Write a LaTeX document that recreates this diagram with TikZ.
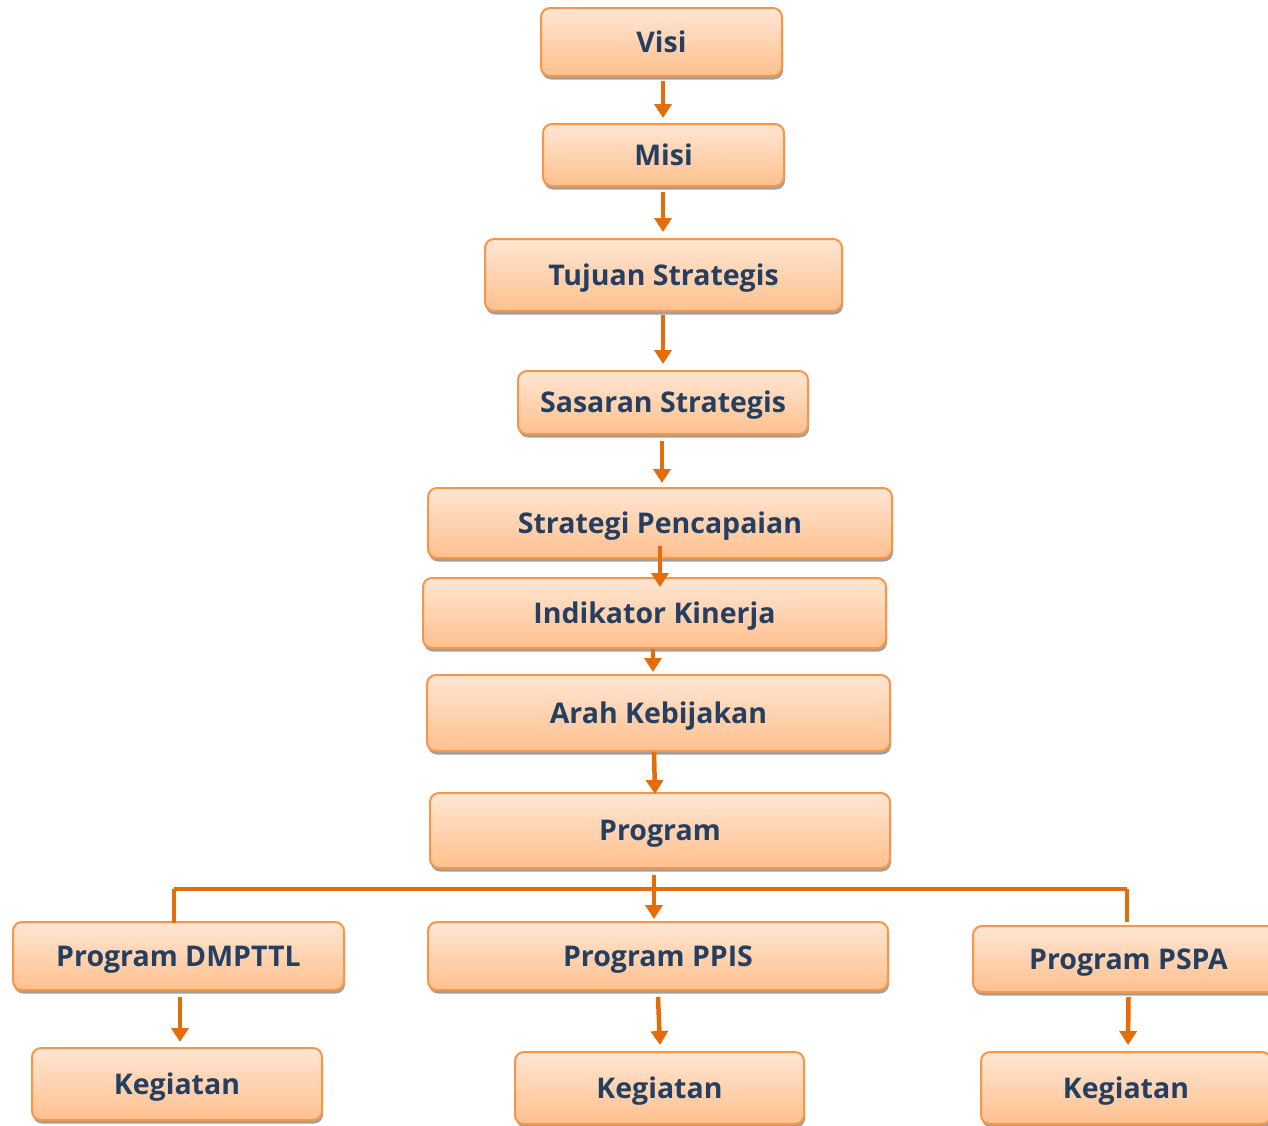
\documentclass[tikz,border=0pt]{standalone}
\usepackage{fontspec}
\setmainfont{Open Sans}
\usetikzlibrary{arrows.meta,shadows,calc}
\definecolor{arrc}{HTML}{E46C0A}
\definecolor{bordc}{HTML}{F79646}
\definecolor{topc}{HTML}{FFE6D3}
\definecolor{botc}{HTML}{FFC08E}
\definecolor{txtc}{HTML}{243F60}
\definecolor{shadc}{HTML}{A0A0A0}
\begin{document}
\begin{tikzpicture}[x=1pt,y=-1pt,
  box/.style={draw=bordc,line width=2pt,rounded corners=9pt,top color=topc,bottom color=botc,
    inner sep=0pt,text=txtc,font=\fontsize{28.5}{32}\selectfont\bfseries,
    text height=20.3pt,text depth=0pt,
    drop shadow={shadow xshift=1pt,shadow yshift=-3.5pt,fill=shadc,opacity=1}},
  arr/.style={draw=arrc,line width=4.5pt,-{Triangle[width=17pt,length=14pt]}},
  ln/.style={draw=arrc,line width=4.5pt}]
\useasboundingbox (0,0) rectangle (1268,1125);
\clip (0,0) rectangle (1268,1125);
\node[box,minimum width=241pt,minimum height=68pt] (visi) at (661.5,42) {Visi};
\node[box,minimum width=241pt,minimum height=62pt] (misi) at (663.5,155) {Misi};
\node[box,minimum width=357pt,minimum height=72pt] (tuj) at (663.5,275) {Tujuan Strategis};
\node[box,minimum width=290pt,minimum height=63pt] (sas) at (663,402.5) {Sasaran Strategis};
\node[box,minimum width=464pt,minimum height=70pt] (strat) at (660,523) {Strategi Pencapaian};
\node[box,minimum width=463pt,minimum height=70pt] (ind) at (654.5,613) {Indikator Kinerja};
\node[box,minimum width=463pt,minimum height=76pt] (arah) at (658.5,713) {Arah Kebijakan};
\node[box,minimum width=460pt,minimum height=75pt] (prog) at (660,830.5) {Program};
\node[box,minimum width=331pt,minimum height=68pt] (dmp) at (178.5,956) {Program DMPTTL};
\node[box,minimum width=460pt,minimum height=68pt] (ppis) at (658,956) {Program PPIS};
\node[box,minimum width=311pt,minimum height=66pt] (pspa) at (1128.5,959) {Program PSPA};
\node[box,minimum width=290pt,minimum height=72pt] (kegl) at (177,1084) {Kegiatan};
\node[box,minimum width=289pt,minimum height=72pt] (kegm) at (659.5,1088) {Kegiatan};
\node[box,minimum width=290pt,minimum height=72pt] (kegr) at (1126,1088) {Kegiatan};
% arrows
\draw[arr] ($(visi.south)+(1.5,4)$) -- ($(misi.north)+(-0.5,-5)$);
\draw[arr] ($(misi.south)+(-0.5,5)$) -- ($(tuj.north)+(-0.5,-6)$);
\draw[arr] ($(tuj.south)+(-0.5,3)$) -- ($(sas.north)+(0,-6)$);
\draw[arr] ($(sas.south)+(-1,6)$) -- ($(strat.north)+(2,-4)$);
\draw[arr] ($(strat.south)+(0,-13)$) -- ($(ind.north)+(5.5,10)$);
\draw[arr] ($(ind.south)+(-1.5,0)$) -- ($(arah.north)+(-5.5,-2)$);
\draw[arr] ($(arah.south)+(-4.5,0)$) -- ($(prog.north)+(-5,2)$);
\draw[arr] ($(prog.south)+(-6,6)$) -- ($(ppis.north)+(-4,-2)$);
\coordinate (bl) at ($(dmp.north)+(-4.5,-32)$);
\coordinate (br) at ($(pspa.north)+(-1.5,-36)$);
\draw[ln] (bl) -- (br);
\draw[ln] (bl) -- ($(dmp.north)+(-4.5,2)$);
\draw[ln] (br) -- ($(pspa.north)+(-1.5,-3)$);
\draw[arr] ($(dmp.south)+(1.5,6)$) -- ($(kegl.north)+(3,-5)$);
\draw[arr] ($(ppis.south)+(0,6)$) -- ($(kegm.north)+(0.5,-6)$);
\draw[arr] ($(pspa.south)+(0,4)$) -- ($(kegr.north)+(2,-6)$);
\end{tikzpicture}
\end{document}
